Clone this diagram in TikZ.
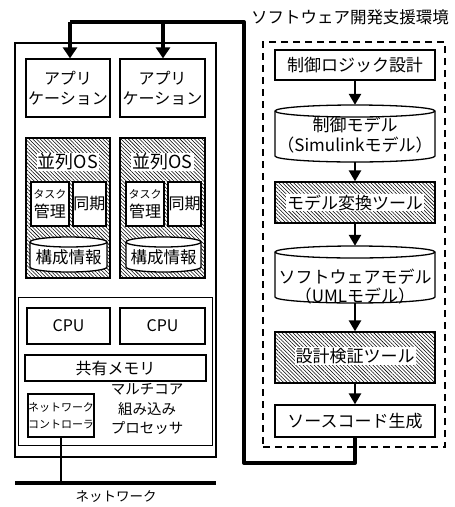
\documentclass[tikz,border=0pt]{standalone}
\usepackage{fontspec}
\setmainfont{Noto Sans CJK JP}
\usetikzlibrary{arrows.meta,patterns.meta}
\newcommand\fsz[2]{\fontsize{#1}{#2}\selectfont}
% box: name x1 y1 x2 y2 text (image coordinates, y downward)
\newcommand\bx[7][]{\node[box,#1,minimum width={#5-#3},minimum height={#6-#4}] (#2) at ({(#3+#5)/2},{-(#4+#6)/2}) {#7};}
% cylinder: name x1 y1 x2 y2 ry
\newcommand\cyl[6]{%
  \path[draw,fill=white,line width=1.3pt] (#2,{-(#3)-(#6)}) -- (#2,{-(#5)+(#6)})
    arc[start angle=180,end angle=360,x radius={(#4-#2)/2},y radius=#6]
    -- (#4,{-(#3)-(#6)})
    arc[start angle=0,end angle=180,x radius={(#4-#2)/2},y radius=#6] -- cycle;
  \draw[line width=1.3pt] (#2,{-(#3)-(#6)}) arc[start angle=180,end angle=360,x radius={(#4-#2)/2},y radius=#6];
  \node[inner sep=0pt,minimum width={#4-#2},minimum height={#5-#3}] (#1) at ({(#2+#4)/2},{-(#3+#5)/2}) {};}
\begin{document}
\begin{tikzpicture}[x=1pt,y=1pt,
  box/.style={draw,line width=1.3pt,fill=white,inner sep=0pt,align=center},
  hatchbox/.style={draw,line width=1.3pt,inner sep=0pt,pattern={Lines[angle=-45,distance=2.6pt,line width=0.55pt]}},
  wlabel/.style={fill=white,inner sep=1pt,align=center},
  txt/.style={inner sep=0pt,align=center},
  bus/.style={line width=4pt,line join=round},
  busarrow/.style={line width=4pt,-{Triangle[width=14pt,length=11pt]}},
  flow/.style={line width=2.6pt,-{Triangle[width=12pt,length=11pt]}},
  ]
\useasboundingbox (0,0) rectangle (455,-507);

% ---------- left: host ----------
\bx{host}{15}{43}{216}{457}{}
\bx[font=\fsz{16}{20}]{app1}{26}{59}{110}{117}{アプリ\\ケーション}
\bx[font=\fsz{16}{20}]{app2}{120}{59}{205}{117}{アプリ\\ケーション}

\bx[hatchbox]{os1}{26}{138}{110}{278}{}
\bx[hatchbox]{os2}{120}{138}{205}{278}{}
\node[wlabel,font=\fsz{18}{20}] (os1t) at (68,-162) {並列OS};
\node[wlabel,font=\fsz{18}{20}] (os2t) at (162.5,-162) {並列OS};

\bx[font=\fsz{16}{18}]{task1}{31}{182}{69}{226}{{\fsz{11}{13}タスク}\\[1pt]管理}
\bx[font=\fsz{16}{18}]{sync1}{73}{182}{106}{226}{同期}
\bx[font=\fsz{16}{18}]{task2}{126}{182}{164}{226}{{\fsz{11}{13}タスク}\\[1pt]管理}
\bx[font=\fsz{16}{18}]{sync2}{168}{182}{201}{226}{同期}

\cyl{cfg1}{30}{237}{107}{272}{5}
\node[txt,font=\fsz{16.5}{20}] (cfg1t) at (68.5,-257) {構成情報};
\cyl{cfg2}{126}{237}{201}{272}{5}
\node[txt,font=\fsz{16.5}{20}] (cfg2t) at (163.5,-257) {構成情報};

\bx[line width=0.8pt]{proc}{18}{297}{212}{445}{}
\bx[font=\fsz{16}{18}]{cpu1}{27}{308}{110}{344}{CPU}
\bx[font=\fsz{16}{18}]{cpu2}{120}{308}{205}{344}{CPU}
\bx[font=\fsz{16}{18}]{mem}{25}{355}{206}{381}{共有メモリ}
\bx[font=\fsz{11}{17}]{nic}{28}{394}{94}{437}{ネットワーク\\コントローラ}
\node[txt,font=\fsz{14.5}{19.5}] (proct) at (147,-409) {マルチコア\\組み込み\\プロセッサ};

% network
\coordinate (netL) at (15,-483);
\coordinate (netR) at (216,-483);
\draw[line width=4.5pt] (netL) -- (netR);
\draw[line width=1.8pt] (nic.south) -- (nic.south |- netL);
\node[txt,font=\fsz{13.5}{16}] (nett) at (116,-497) {ネットワーク};

% ---------- right: environment ----------
\node[draw,line width=1.5pt,dash pattern=on 7pt off 5pt,minimum width=182,minimum height=405,inner sep=0pt] (env) at (354,-244.5) {};
\node[txt,font=\fsz{16.5}{20}] (envt) at (350,-17) {ソフトウェア開発支援環境};

\bx[font=\fsz{17}{20}]{logic}{275}{50}{435}{80}{制御ロジック設計}
\cyl{cm}{275}{105}{435}{162}{6}
\node[txt,font=\fsz{17}{20}] (cmt) at (355,-135) {制御モデル\\（Simulinkモデル）};
\bx[hatchbox]{conv}{275}{182}{435}{223}{}
\node[wlabel,font=\fsz{17}{20}] (convt) at (355,-202.5) {モデル変換ツール};
\cyl{sm}{275}{246}{435}{303}{6}
\node[txt,font=\fsz{17}{19}] (smt) at (355,-286.5) {ソフトウェアモデル\\（UMLモデル）};
\bx[hatchbox]{ver}{275}{332}{435}{383}{}
\node[wlabel,font=\fsz{17}{20}] (vert) at (355,-356) {設計検証ツール};
\bx[font=\fsz{17}{20}]{src}{275}{405}{435}{437}{ソースコード生成}

\draw[flow] (logic.south) -- (cm.north);
\draw[flow] (cm.south) -- (conv.north);
\draw[flow] (conv.south) -- (sm.north);
\draw[flow] (sm.south) -- (ver.north);
\draw[flow] (ver.south) -- (src.north);

% ---------- feedback bus ----------
\coordinate (cB) at (244,-463);
\coordinate (cT) at (244,-22);
\coordinate (j1) at (70,-22);
\coordinate (j2) at (163,-22);
\draw[bus] (src.south) -- (src.south |- cB) -- (cB) -- (cT) -- (j1);
\draw[busarrow] (j1) -- (j1 |- app1.north);
\draw[busarrow] (j2) -- (j2 |- app2.north);
\end{tikzpicture}
\end{document}
